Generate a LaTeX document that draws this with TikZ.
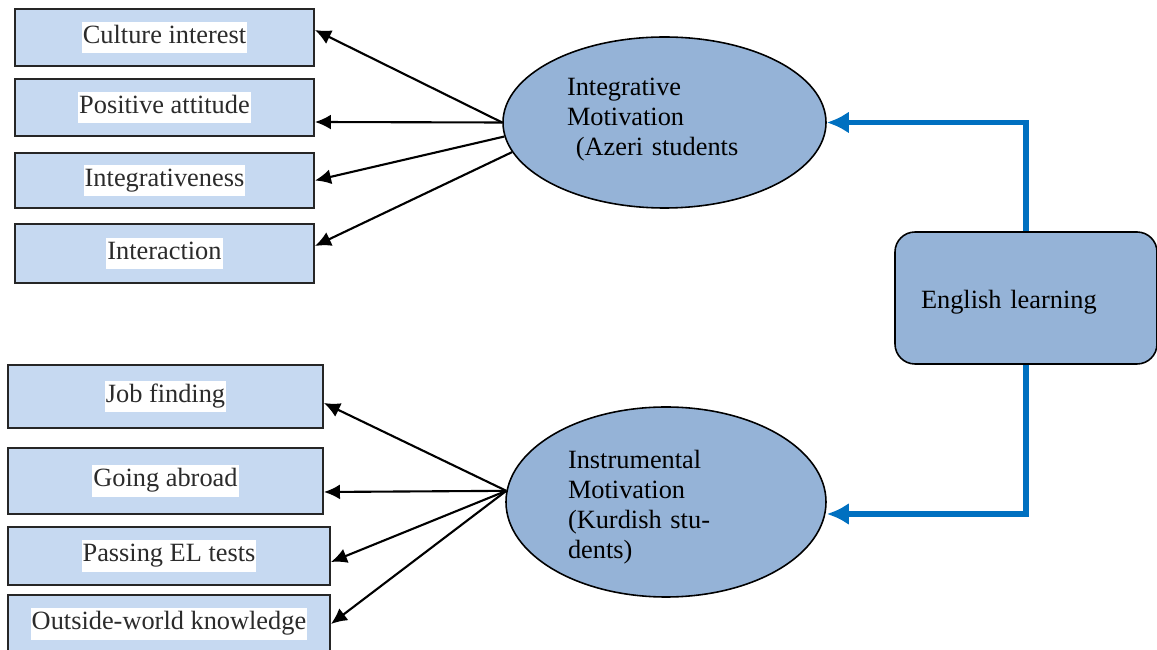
\documentclass[tikz,border=0pt]{standalone}
\usepackage{fontspec}
\setmainfont{Liberation Serif}
\usepackage{xcolor}
\usepackage{tikz}
\usetikzlibrary{shapes.geometric, arrows.meta}

\definecolor{boxfill}{HTML}{C6D9F1}
\definecolor{ovalfill}{HTML}{95B3D7}
\definecolor{linkblue}{HTML}{0070C0}
\definecolor{labelgray}{HTML}{2B2B2B}
\newcommand{\whitelabel}[1]{{\setlength{\fboxsep}{0.6pt}\colorbox{white}{\strut #1}}}

\begin{document}
\begin{tikzpicture}[
        item/.style={draw=black!85, line width=1.1pt, fill=boxfill, minimum width=5.98cm,
                     minimum height=1.14cm, inner sep=0pt, text=labelgray,
                     font=\fontsize{15}{17}\selectfont},
        wideitem/.style={item, minimum width=6.3cm},
        motive/.style={ellipse, draw=black, line width=0.9pt, fill=ovalfill,
                       minimum width=6.46cm, minimum height=3.42cm, inner sep=0pt,
                       align=left, text width=3.9cm, font=\fontsize{15}{17}\selectfont},
        goal/.style={draw=black, line width=0.9pt, fill=ovalfill, rounded corners=0.4cm,
                     minimum width=5.24cm, minimum height=2.64cm, align=left,
                     text width=4.2cm, font=\fontsize{15}{17}\selectfont},
        arr/.style={-{Latex[length=3.2mm,width=3mm]}, line width=1.2pt},
        bluearr/.style={-{Latex[length=4.4mm,width=4.4mm]}, line width=3.4pt,
                        draw=linkblue, color=linkblue}
    ]
        \useasboundingbox (0,0) rectangle (23.14,-13);

        \node[item] (cult)    at (3.29, -0.75)  {\whitelabel{Culture interest}};
        \node[item] (posit)   at (3.29, -2.15)  {\whitelabel{Positive attitude}};
        \node[item, minimum height=1.10cm] (integ) at (3.29, -3.61) {\whitelabel{Integrativeness}};
        \node[item, minimum height=1.18cm] (inter) at (3.29, -5.07) {\whitelabel{Interaction}};

        \node[wideitem, minimum height=1.26cm] (job)    at (3.31, -7.93)  {\whitelabel{Job finding}};
        \node[wideitem, minimum height=1.32cm] (abroad) at (3.31, -9.62)  {\whitelabel{Going abroad}};
        \node[wideitem, minimum width=6.44cm, minimum height=1.16cm] (tests)   at (3.38, -11.12) {\whitelabel{Passing EL tests}};
        \node[wideitem, minimum width=6.44cm, minimum height=1.16cm] (outside) at (3.38, -12.48) {\whitelabel{Outside-world knowledge}};

        \node[motive] (intg)  at (13.29, -2.45) {Integrative\\Motivation\\\ (Azeri students\rule[-6.8pt]{0pt}{1pt}};
        \node[motive, minimum width=6.40cm, minimum height=3.80cm, text width=3.92cm]
              (instr) at (13.32, -10.04) {\rule{0pt}{16pt}Instrumental\\Motivation\\(Kurdish stu-\\dents)};

        \node[goal] (engl) at (20.52, -5.96) {\rule{0pt}{15pt}English learning};

        \draw[arr] (intg.west) -- ([yshift=0.15cm]cult.east);
        \draw[arr] (intg.west) -- ([yshift=-0.29cm]posit.east);
        \draw[arr] (intg.185)  -- (integ.east);
        \draw[arr] (intg.191)  -- ([yshift=0.15cm]inter.east);

        \draw[arr] (instr.176) -- ([yshift=-0.13cm]job.east);
        \draw[arr] (instr.176) -- ([yshift=-0.22cm]abroad.east);
        \draw[arr] (instr.176) -- ([yshift=-0.12cm]tests.east);
        \draw[arr] (instr.176) -- (outside.east);

        \draw[bluearr] (engl.north) |- (intg.east);
        \draw[bluearr] (engl.south) |- ([yshift=-0.24cm]instr.east);
    \end{tikzpicture}
\end{document}
